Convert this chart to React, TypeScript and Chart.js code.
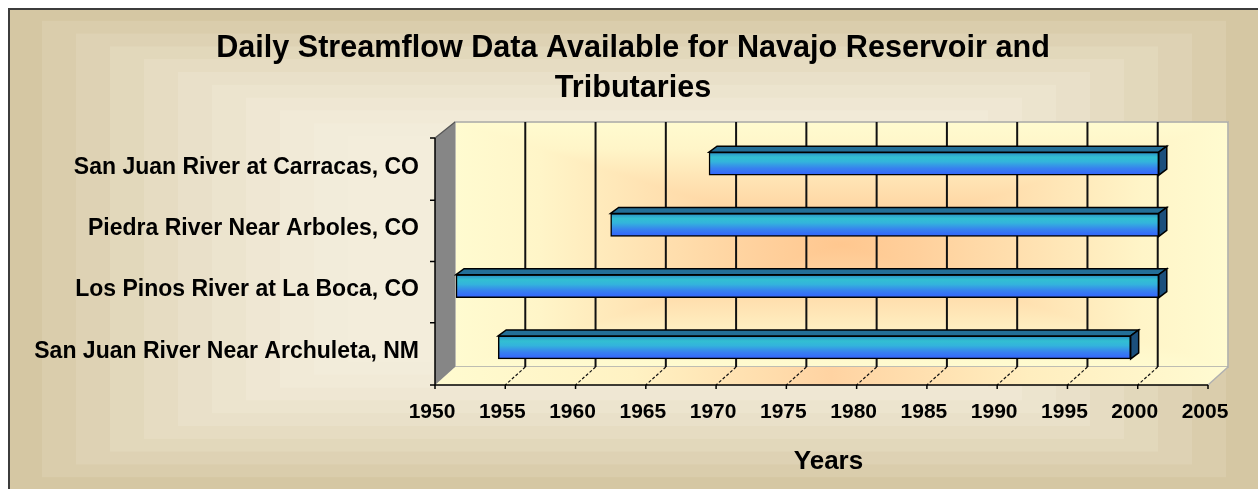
import React, { useEffect, useRef } from 'react';
import { Chart, registerables } from 'chart.js';

Chart.register(...registerables);

// ---------- data ----------
const categories = [
  'San Juan River at Carracas, CO',
  'Piedra River Near Arboles, CO',
  'Los Pinos River at La Boca, CO',
  'San Juan River Near Archuleta, NM',
];
const startYears = [1969, 1962, 1951, 1954];
const endYears = [2001, 2001, 2001, 1999];
const xTickValues = [1950, 1955, 1960, 1965, 1970, 1975, 1980, 1985, 1990, 1995, 2000, 2005];
const titleLines = ['Daily Streamflow Data Available for Navajo Reservoir and', 'Tributaries'];
const xAxisTitle = 'Years';

// ---------- styling constants ----------
const FONT = "'Liberation Sans', Arial, sans-serif";
const BACK = { dx: 13, dy: -11 };
const FRONT = { dx: -7, dy: 7 };
const BAR_DEPTH = { dx: 8, dy: 6 };

type RGB = [number, number, number];
const lerp = (a: RGB, b: RGB, t: number) =>
  `rgb(${Math.round(a[0] + (b[0] - a[0]) * t)},${Math.round(a[1] + (b[1] - a[1]) * t)},${Math.round(
    a[2] + (b[2] - a[2]) * t
  )})`;

function drawFrame(ctx: CanvasRenderingContext2D, W: number, H: number) {
  const FW = 1252;
  const FH = 482;
  const edge: RGB = [213, 199, 163];
  const center: RGB = [243, 237, 219];
  const steps = 10;
  for (let i = 0; i <= steps; i++) {
    const t = 1 - Math.pow(1 - i / steps, 1.6);
    const ix = i * 34;
    const iy = i * 12.8;
    if (ix * 2 >= FW || iy * 2 >= FH) break;
    ctx.fillStyle = lerp(edge, center, t);
    ctx.fillRect(ix, iy, FW - 2 * ix, FH - 2 * iy);
  }
  ctx.fillStyle = '#3c3c3c';
  ctx.fillRect(0, 0, W, 2);
  ctx.fillRect(0, 0, 2, H);
}

function rectGradient(
  ctx: CanvasRenderingContext2D,
  x0: number,
  y0: number,
  x1: number,
  y1: number,
  stops: [number, string][]
) {
  const cx = (x0 + x1) / 2;
  const cy = (y0 + y1) / 2;
  ctx.fillStyle = stops[0][1];
  ctx.fillRect(x0, y0, x1 - x0, y1 - y0);
  const parts: { pts: number[][]; g: number[] }[] = [
    { pts: [[x0, y0], [x1, y0], [cx, cy]], g: [0, y0, 0, cy] },
    { pts: [[x0, y1], [x1, y1], [cx, cy]], g: [0, y1, 0, cy] },
    { pts: [[x0, y0], [x0, y1], [cx, cy]], g: [x0, 0, cx, 0] },
    { pts: [[x1, y0], [x1, y1], [cx, cy]], g: [x1, 0, cx, 0] },
  ];
  for (const p of parts) {
    const g = ctx.createLinearGradient(p.g[0], p.g[1], p.g[2], p.g[3]);
    stops.forEach(([o, c]) => g.addColorStop(o, c));
    ctx.beginPath();
    ctx.moveTo(p.pts[0][0], p.pts[0][1]);
    ctx.lineTo(p.pts[1][0], p.pts[1][1]);
    ctx.lineTo(p.pts[2][0], p.pts[2][1]);
    ctx.closePath();
    ctx.fillStyle = g;
    ctx.fill();
    ctx.strokeStyle = g;
    ctx.lineWidth = 1;
    ctx.stroke();
  }
}

const planeStops: [number, string][] = [
  [0, '#fffbd0'],
  [0.22, '#fff5c8'],
  [0.5, '#ffe2b2'],
  [0.8, '#ffd09c'],
  [1, '#ffc78f'],
];

const scenePlugin = {
  id: 'scene3d',
  beforeDraw(chart: any) {
    const { ctx, chartArea: a, scales } = chart;
    if (!a) return;
    const xs = scales.x;
    const ys = scales.y;
    ctx.save();
    drawFrame(ctx, chart.width, chart.height);

    const L = a.left, R = a.right, T = a.top, B = a.bottom;
    const bL = L + BACK.dx, bR = R + BACK.dx, bT = T + BACK.dy, bB = B + BACK.dy;
    const fL = L + FRONT.dx, fR = R + FRONT.dx, fT = T + FRONT.dy - 2, fB = B + FRONT.dy;

    // back wall
    rectGradient(ctx, bL, bT, bR, bB, planeStops);
    ctx.strokeStyle = '#a8a8a8';
    ctx.lineWidth = 1.5;
    ctx.strokeRect(bL, bT, bR - bL, bB - bT);

    // floor
    const fg = ctx.createLinearGradient(fL, 0, bR, 0);
    fg.addColorStop(0, '#fffbd0');
    fg.addColorStop(0.25, '#fff2c3');
    fg.addColorStop(0.5, '#ffd3a2');
    fg.addColorStop(0.75, '#ffeebf');
    fg.addColorStop(1, '#fffbd2');
    ctx.beginPath();
    ctx.moveTo(bL, bB);
    ctx.lineTo(bR, bB);
    ctx.lineTo(fR, fB);
    ctx.lineTo(fL, fB);
    ctx.closePath();
    ctx.fillStyle = fg;
    ctx.fill();
    ctx.beginPath();
    ctx.moveTo(bR, bB);
    ctx.lineTo(fR, fB);
    ctx.strokeStyle = '#b0b0b0';
    ctx.lineWidth = 1.5;
    ctx.stroke();

    // left wall
    ctx.beginPath();
    ctx.moveTo(fL, fT);
    ctx.lineTo(bL, bT);
    ctx.lineTo(bL, bB);
    ctx.lineTo(fL, fB);
    ctx.closePath();
    ctx.fillStyle = '#868686';
    ctx.fill();
    ctx.beginPath();
    ctx.moveTo(fL, fT);
    ctx.lineTo(bL, bT);
    ctx.strokeStyle = '#555';
    ctx.lineWidth = 1.2;
    ctx.stroke();

    // grid lines on the back wall + dashed lines on the floor
    const inner = xTickValues.slice(1, -1);
    inner.forEach((v) => {
      const px = xs.getPixelForValue(v);
      ctx.beginPath();
      ctx.moveTo(px + BACK.dx, bT);
      ctx.lineTo(px + BACK.dx, bB);
      ctx.strokeStyle = '#111';
      ctx.lineWidth = 2;
      ctx.setLineDash([]);
      ctx.stroke();
      ctx.beginPath();
      ctx.moveTo(px + BACK.dx, bB);
      ctx.lineTo(px + FRONT.dx, fB);
      ctx.lineWidth = 1.2;
      ctx.setLineDash([3, 2]);
      ctx.stroke();
    });
    ctx.setLineDash([]);

    // front axes
    ctx.beginPath();
    ctx.moveTo(fL, fT);
    ctx.lineTo(fL, fB);
    ctx.lineTo(fR, fB);
    ctx.strokeStyle = '#000';
    ctx.lineWidth = 1.5;
    ctx.stroke();

    // y ticks at category boundaries
    const n = categories.length;
    const centers = categories.map((_, i) => ys.getPixelForValue(i));
    for (let i = 0; i <= n; i++) {
      let yb: number;
      if (i === 0) yb = fT;
      else if (i === n) yb = fB;
      else yb = (centers[i - 1] + centers[i]) / 2 + FRONT.dy - 1;
      ctx.beginPath();
      ctx.moveTo(fL - 5, yb);
      ctx.lineTo(fL, yb);
      ctx.stroke();
    }
    // x ticks
    xTickValues.forEach((v) => {
      const px = xs.getPixelForValue(v) + FRONT.dx;
      ctx.beginPath();
      ctx.moveTo(px, fB);
      ctx.lineTo(px, fB + 4);
      ctx.stroke();
    });
    ctx.restore();
  },
  afterDatasetsDraw(chart: any) {
    const { ctx } = chart;
    const meta = chart.getDatasetMeta(0);
    ctx.save();
    meta.data.forEach((el: any) => {
      const { x, y, base, height } = el.getProps(['x', 'y', 'base', 'height'], true);
      const left = Math.min(x, base);
      const right = Math.max(x, base);
      const top = y - height / 2;
      const bottom = y + height / 2;
      const { dx, dy } = BAR_DEPTH;
      ctx.lineWidth = 1.5;
      ctx.strokeStyle = '#000';
      ctx.lineJoin = 'miter';
      // top face
      ctx.beginPath();
      ctx.moveTo(left, top);
      ctx.lineTo(left + dx, top - dy);
      ctx.lineTo(right + dx, top - dy);
      ctx.lineTo(right, top);
      ctx.closePath();
      ctx.fillStyle = '#236f98';
      ctx.fill();
      ctx.stroke();
      // end face
      ctx.beginPath();
      ctx.moveTo(right, top);
      ctx.lineTo(right + dx, top - dy);
      ctx.lineTo(right + dx, bottom - dy);
      ctx.lineTo(right, bottom);
      ctx.closePath();
      ctx.fillStyle = '#1b4f7c';
      ctx.fill();
      ctx.stroke();
    });
    ctx.restore();
  },
};

export default function App() {
  const ref = useRef<HTMLCanvasElement | null>(null);

  useEffect(() => {
    if (!ref.current) return;
    const chart = new Chart(ref.current, {
      type: 'bar',
      data: {
        labels: categories,
        datasets: [
          {
            label: 'Record',
            data: startYears.map((s, i) => [s, endYears[i]]) as any,
            backgroundColor: (c: any) => {
              const ch = c.chart;
              const { ctx, chartArea, scales } = ch;
              if (!chartArea || !scales || !scales.y || c.type !== 'data') return '#33aadd';
              const yc = scales.y.getPixelForValue(c.dataIndex);
              const g = ctx.createLinearGradient(0, yc - 11.5, 0, yc + 11.5);
              g.addColorStop(0, '#2b8cc6');
              g.addColorStop(0.22, '#32bfd2');
              g.addColorStop(0.42, '#33b4dc');
              g.addColorStop(0.7, '#3782ee');
              g.addColorStop(1, '#3462ff');
              return g;
            },
            borderColor: '#000',
            borderWidth: 1.5,
            borderSkipped: false,
            barThickness: 23,
          },
        ],
      },
      options: {
        indexAxis: 'y',
        responsive: false,
        animation: false,
        devicePixelRatio: 1,
        layout: { padding: { left: 0, right: 0, top: 0, bottom: 0 } },
        plugins: {
          legend: { display: false },
          tooltip: { enabled: false },
          title: {
            display: true,
            text: titleLines,
            color: '#000',
            font: { family: FONT, size: 30.6, weight: 'bold', lineHeight: '40px' as any },
            padding: { top: 21, bottom: 24 },
          },
        },
        scales: {
          x: {
            type: 'linear',
            min: xTickValues[0],
            max: xTickValues[xTickValues.length - 1],
            grid: { display: false },
            border: { display: false },
            afterBuildTicks: (s: any) => {
              s.ticks = xTickValues.map((v) => ({ value: v }));
            },
            afterFit: (s: any) => {
              s.height = 111;
            },
            ticks: {
              color: '#000',
              font: { family: FONT, size: 21, weight: 'bold' },
              padding: 14,
              labelOffset: -10,
              maxRotation: 0,
              autoSkip: false,
              callback: (v: any) => String(v),
            },
            title: {
              display: true,
              text: xAxisTitle,
              color: '#000',
              font: { family: FONT, size: 26, weight: 'bold' },
              padding: { top: 0, bottom: 12 },
            },
          },
          y: {
            type: 'category',
            grid: { display: false },
            border: { display: false },
            afterFit: (s: any) => {
              s.width = 434;
            },
            ticks: {
              color: '#000',
              font: { family: FONT, size: 23, weight: 'bold' },
              padding: 15,
              labelOffset: 4,
            },
          },
          // empty right-hand spacer so the plot leaves room for the 3D depth
          spacer: {
            type: 'linear',
            position: 'right',
            display: true,
            grid: { display: false },
            border: { display: false },
            ticks: { display: false },
            afterFit: (s: any) => {
              s.width = 43;
            },
          },
        },
      },
      plugins: [scenePlugin],
    });
    return () => chart.destroy();
  }, []);

  return (
    <div style={{ position: 'absolute', left: 8, top: 8, width: 1250, height: 481 }}>
      <canvas ref={ref} width={1250} height={481} style={{ display: 'block', width: 1250, height: 481 }} />
    </div>
  );
}
